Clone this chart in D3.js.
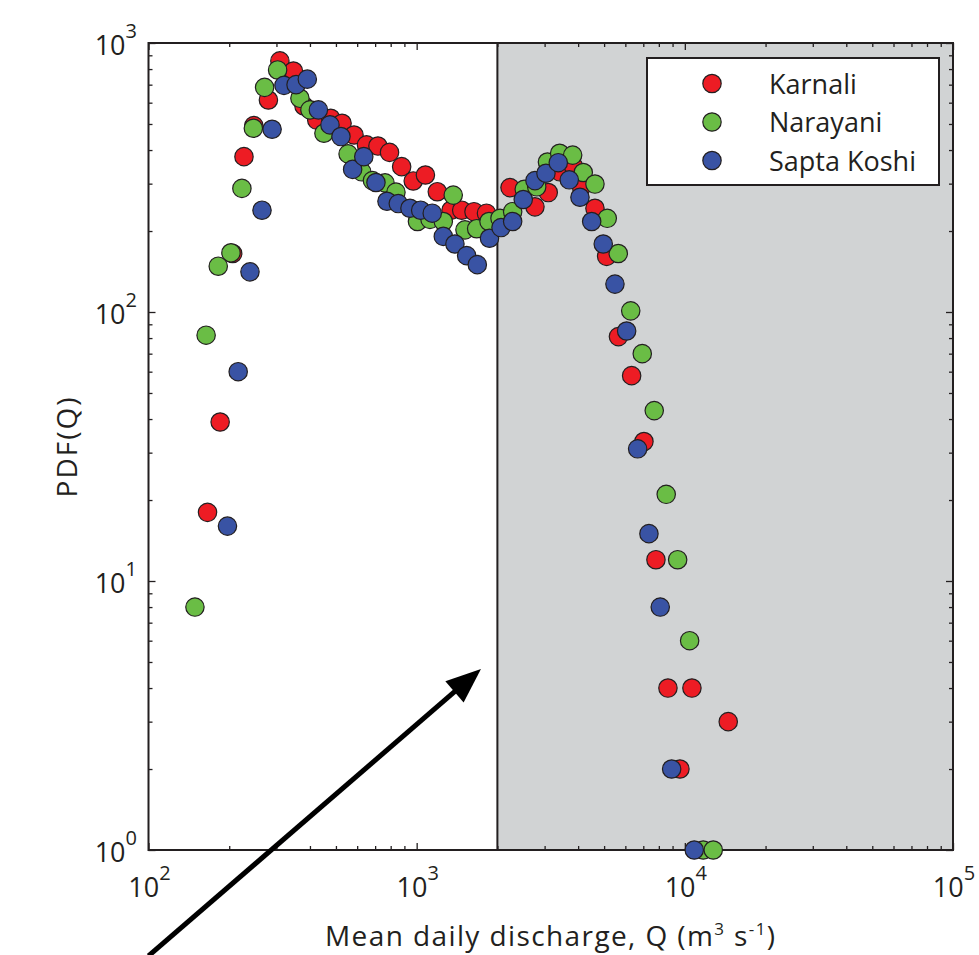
<!DOCTYPE html>
<html>
<head>
<meta charset="utf-8">
<script src="https://cdn.jsdelivr.net/npm/d3@7"></script>
<style>
  html, body { margin: 0; padding: 0; background: #fff; }
  svg { display: block; font-family: "Open Sans", sans-serif; }
</style>
</head>
<body>
<div id="chart"></div>
<script>
// discharge bins (m3/s) and PDF values
const qKarnali = [166, 185, 206, 227, 247, 280, 309, 347, 380, 424, 478, 527, 584, 650, 717, 792, 879, 971, 1078, 1194,
  1343, 1472, 1636, 1821, 2229, 2761, 3095, 3422, 3837, 4117, 4622, 5110, 5655, 6333, 7039, 7803, 8650, 9588, 10628, 14516];
const pdfKarnali = [18, 39, 165, 378, 493, 614, 858, 787, 583, 517, 525, 503, 455, 418, 414, 392, 347, 307, 323, 280,
  239, 239, 236, 233, 290, 246, 278, 332, 349, 292, 243, 161, 81, 58, 33, 12, 4, 2, 4, 3];

const qNarayani = [149, 164, 182, 203, 223, 246, 271, 303, 367, 400, 451, 555, 624, 684, 762, 837, 1007, 1121, 1257, 1369,
  1514, 1674, 1861, 2045, 2280, 2519, 2803, 3074, 3414, 3817, 4181, 4622, 5137, 5646, 6284, 6938, 7690, 8522, 9402, 10421, 11712, 12764];
const pdfNarayani = [8, 82, 148, 166, 288, 482, 684, 794, 623, 564, 462, 387, 332, 308, 302, 279, 217, 221, 217, 272,
  202, 204, 217, 223, 236, 286, 292, 361, 389, 383, 330, 299, 223, 165, 101, 70, 43, 21, 12, 6, 1, 1];

const qSapta = [197, 216, 239, 265, 289, 320, 355, 391, 430, 475, 522, 577, 635, 705, 775, 854, 944, 1035, 1143, 1257,
  1389, 1536, 1683, 1869, 2063, 2280, 2497, 2761, 3035, 3373, 3707, 4064, 4494, 4963, 5488, 6067, 6668, 7348, 8096, 8929, 10842];
const pdfSapta = [16, 60, 141, 239, 478, 696, 700, 734, 564, 496, 449, 339, 378, 303, 258, 253, 243, 239, 233, 191,
  179, 162, 150, 188, 206, 217, 262, 308, 328, 359, 310, 267, 217, 179, 127, 85, 31, 15, 8, 2, 1];

const seriesNames = ["Karnali", "Narayani", "Sapta Koshi"];
const seriesColors = ["#ed1c24", "#6abd45", "#3953a4"];
const xMajor = [1e2, 1e3, 1e4, 1e5];
const yMajor = [1e0, 1e1, 1e2, 1e3];
const threshold = 2000;          // shaded region starts here
const arrowFrom = [100, 0.404];  // annotation arrow, data coords
const arrowTo = [1737, 4.71];

const series = [
  { q: qKarnali, p: pdfKarnali },
  { q: qNarayani, p: pdfNarayani },
  { q: qSapta, p: pdfSapta }
];

const W = 979, H = 955;
const ink = "#231f20";

const svg = d3.select("#chart").append("svg")
  .attr("width", W).attr("height", H);

const x = d3.scaleLog().domain([1e2, 1e5]).range([148.5, 953]);
const y = d3.scaleLog().domain([1e0, 1e3]).range([850, 43]);
const [x0, x1] = x.range();
const [y0, y1] = y.range();

// minor ticks 2..9 per decade
const minors = dom => {
  let out = [];
  for (let e = Math.log10(dom[0]); e < Math.log10(dom[1]); e++)
    for (let k = 2; k <= 9; k++) out.push(k * Math.pow(10, e));
  return out;
};

// shaded region
svg.append("rect")
  .attr("x", x(threshold)).attr("y", y1)
  .attr("width", x1 - x(threshold)).attr("height", y0 - y1)
  .attr("fill", "#d1d3d4");

svg.append("line")
  .attr("x1", x(threshold)).attr("x2", x(threshold))
  .attr("y1", y1).attr("y2", y0)
  .attr("stroke", ink).attr("stroke-width", 2);

// ticks on all four sides, pointing inward
const tickAxis = (axisFn, scale, vals, size, tr) => {
  const g = svg.append("g").attr("transform", tr)
    .call(axisFn(scale).tickValues(vals).tickSize(-size).tickSizeOuter(0).tickFormat(""));
  g.select(".domain").remove();
  g.selectAll("line").attr("stroke", ink).attr("stroke-width", 1.3);
};
[[7, xMajor], [4, minors(x.domain())]].forEach(([s, v]) => {
  tickAxis(d3.axisBottom, x, v, s, `translate(0,${y0})`);
  tickAxis(d3.axisTop, x, v, s, `translate(0,${y1})`);
});
[[7, yMajor], [4, minors(y.domain())]].forEach(([s, v]) => {
  tickAxis(d3.axisLeft, y, v, s, `translate(${x0},0)`);
  tickAxis(d3.axisRight, y, v, s, `translate(${x1},0)`);
});

// frame
svg.append("rect")
  .attr("x", x0).attr("y", y1)
  .attr("width", x1 - x0).attr("height", y0 - y1)
  .attr("fill", "none").attr("stroke", ink).attr("stroke-width", 2);

// tick labels 10^n
const powLabel = (sel, v) => {
  sel.append("tspan").text("10");
  sel.append("tspan").attr("font-size", 20).attr("dy", -17)
    .text(Math.round(Math.log10(v)));
};
xMajor.forEach(v => {
  svg.append("text")
    .attr("x", x(v) + 1).attr("y", 897)
    .attr("text-anchor", "middle")
    .attr("font-size", 27).attr("fill", ink)
    .call(powLabel, v);
});
yMajor.forEach(v => {
  svg.append("text")
    .attr("x", 137).attr("y", y(v) + 12)
    .attr("text-anchor", "end")
    .attr("font-size", 27).attr("fill", ink)
    .call(powLabel, v);
});

// axis titles
const xt = svg.append("text")
  .attr("x", (x0 + x1) / 2).attr("y", 946)
  .attr("text-anchor", "middle")
  .attr("font-size", 28).attr("letter-spacing", 1.4).attr("fill", ink);
xt.append("tspan").text("Mean daily discharge, Q (m");
xt.append("tspan").attr("font-size", 17).attr("dy", -11).text("3");
xt.append("tspan").attr("dy", 11).text(" s");
xt.append("tspan").attr("font-size", 17).attr("dy", -11).text("-1");
xt.append("tspan").attr("dy", 11).text(")");

svg.append("text")
  .attr("transform", `translate(77,${(y0 + y1) / 2}) rotate(-90)`)
  .attr("text-anchor", "middle")
  .attr("font-size", 28).attr("letter-spacing", 2).attr("fill", ink)
  .text("PDF(Q)");

// points: red, then green, then blue on top
series.forEach((s, i) => {
  svg.append("g")
    .selectAll("circle")
    .data(s.q.map((q, j) => [q, s.p[j]]))
    .join("circle")
    .attr("cx", d => x(d[0]))
    .attr("cy", d => y(d[1]))
    .attr("r", 9.2)
    .attr("fill", seriesColors[i])
    .attr("stroke", ink).attr("stroke-width", 1.2);
});

// legend
const lg = svg.append("g");
lg.append("rect")
  .attr("x", 647).attr("y", 58).attr("width", 292).attr("height", 127)
  .attr("fill", "#fff").attr("stroke", ink).attr("stroke-width", 2);
seriesNames.forEach((name, i) => {
  const cy = 83.5 + i * 38.5;
  lg.append("circle")
    .attr("cx", 712).attr("cy", cy).attr("r", 9.2)
    .attr("fill", seriesColors[i]).attr("stroke", ink).attr("stroke-width", 1.2);
  lg.append("text")
    .attr("x", 769).attr("y", cy + 10)
    .attr("font-size", 27).attr("fill", ink)
    .text(name);
});

// annotation arrow
const [ax0, ay0] = [x(arrowFrom[0]), y(arrowFrom[1])];
const [ax1, ay1] = [x(arrowTo[0]), y(arrowTo[1])];
const ang = Math.atan2(ay1 - ay0, ax1 - ax0);
const headLen = 35, headW = 14;
const bx = ax1 - headLen * Math.cos(ang), by = ay1 - headLen * Math.sin(ang);
svg.append("line")
  .attr("x1", ax0).attr("y1", ay0)
  .attr("x2", bx + 4 * Math.cos(ang)).attr("y2", by + 4 * Math.sin(ang))
  .attr("stroke", "#000").attr("stroke-width", 5);
svg.append("path")
  .attr("d", d3.line()([
    [ax1, ay1],
    [bx - headW * Math.sin(ang), by + headW * Math.cos(ang)],
    [bx + headW * Math.sin(ang), by - headW * Math.cos(ang)]
  ]) + "Z")
  .attr("fill", "#000");
</script>
</body>
</html>
